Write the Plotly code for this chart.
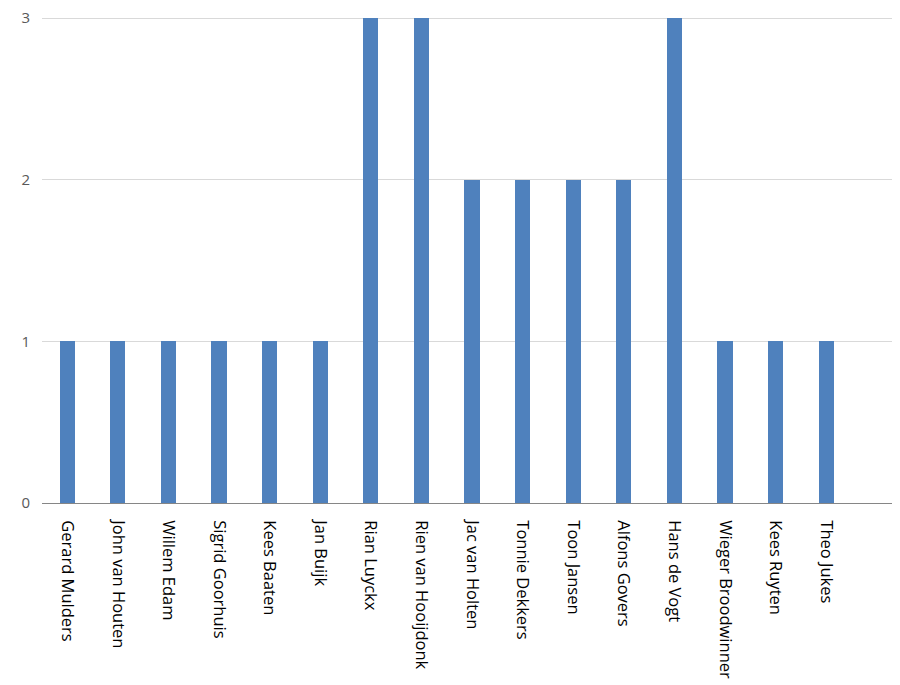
import plotly.graph_objs as go

# Data
names = ['Gerard Mulders', 'John van Houten', 'Willem Edam', 'Sigrid Goorhuis',
         'Kees Baaten', 'Jan Buijk', 'Rian Luyckx', 'Rien van Hooijdonk',
         'Jac van Holten', 'Tonnie Dekkers', 'Toon Jansen', 'Alfons Govers',
         'Hans de Vogt', 'Wieger Broodwinner', 'Kees Ruyten', 'Theo Jukes']
counts = [1, 1, 1, 1, 1, 1, 3, 3, 2, 2, 2, 2, 3, 1, 1, 1]
y_ticks = [0, 1, 2, 3]

fig = go.Figure()
fig.add_trace(go.Bar(x=list(range(len(names))), y=counts, width=0.3,
                     marker_color='#4F81BD', marker_line_width=0))

# page body adds 8px, so the figure is a bit smaller than the window
fig.update_layout(
    width=892, height=677,
    margin=dict(l=34, r=0, t=2, b=182),
    plot_bgcolor='white', paper_bgcolor='white',
    showlegend=False,
    bargap=0,
)
fig.update_xaxes(range=[-0.5, 16.46], tickmode='array',
                 tickvals=list(range(len(names))), ticktext=names,
                 tickangle=90, showgrid=False, showline=True,
                 linecolor='#868686', linewidth=1, ticks='',
                 tickfont=dict(family='Open Sans', size=16.5, color='#000000'),
                 ticklabelstandoff=13)
fig.update_yaxes(range=[0, 3.05], tickmode='array', tickvals=y_ticks,
                 showgrid=True, gridcolor='#D9D9D9', gridwidth=1,
                 zeroline=False, showline=False, ticks='',
                 tickfont=dict(family='Open Sans', size=15, color='#595959'),
                 ticklabelstandoff=11, ticklabeloverflow='allow')

fig.write_html("out.html")
